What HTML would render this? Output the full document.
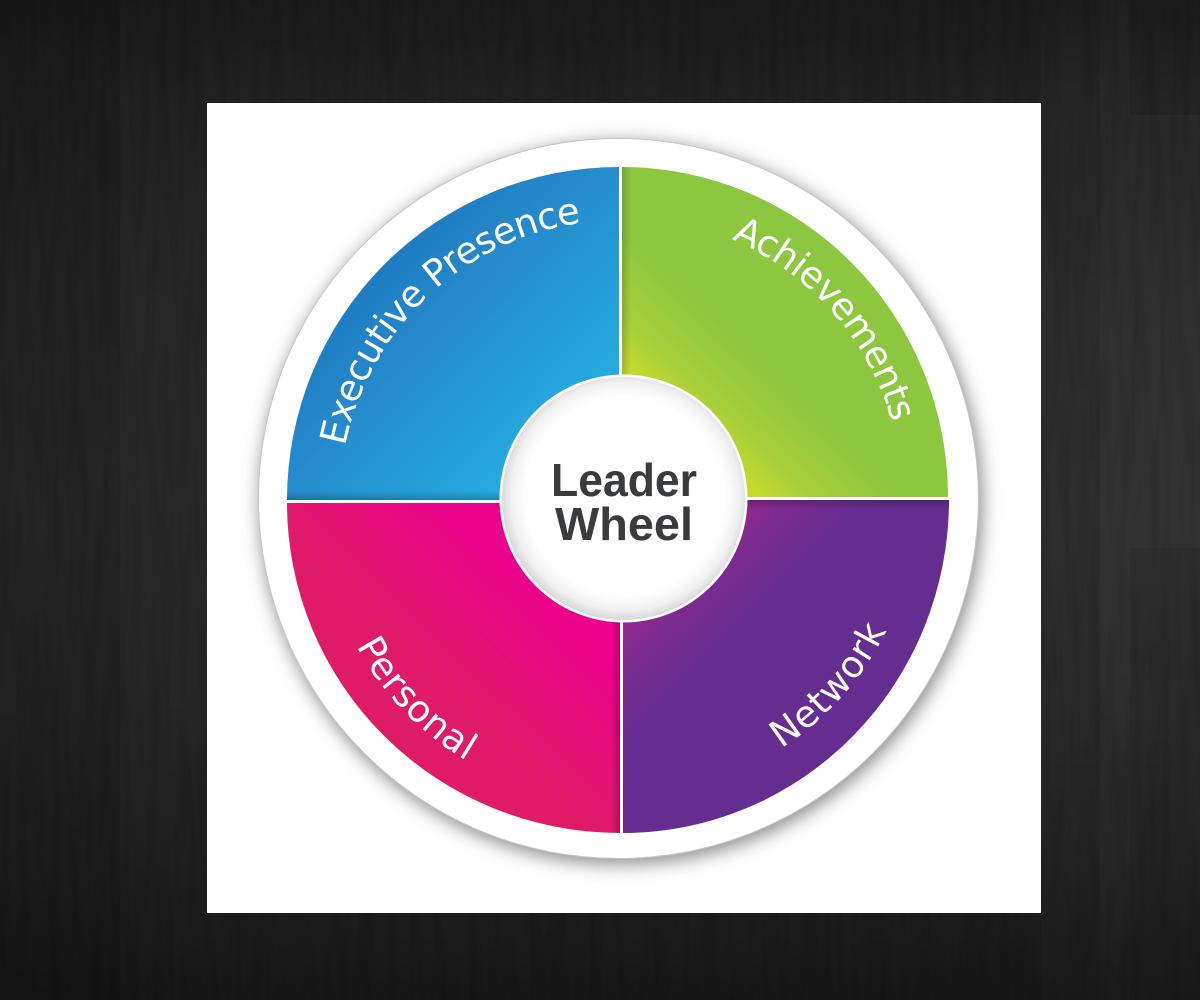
<!DOCTYPE html>
<html lang="en">
<head>
<meta charset="utf-8">
<title>Leader Wheel</title>
<style>
html,body{margin:0;padding:0;background:#1c1c1c;}
svg{display:block;}
</style>
</head>
<body>
<svg xmlns="http://www.w3.org/2000/svg" width="1200" height="1000" viewBox="0 0 1200 1000">
<defs>
  <linearGradient id="vig" x1="0" y1="0" x2="0" y2="1">
    <stop offset="0" stop-color="#000" stop-opacity=".38"/>
    <stop offset=".1" stop-color="#000" stop-opacity=".2"/>
    <stop offset=".3" stop-color="#000" stop-opacity=".06"/>
    <stop offset=".5" stop-color="#000" stop-opacity="0"/>
    <stop offset=".7" stop-color="#000" stop-opacity=".08"/>
    <stop offset=".9" stop-color="#000" stop-opacity=".3"/>
    <stop offset="1" stop-color="#000" stop-opacity=".48"/>
  </linearGradient>
  <filter id="grain" x="0" y="0" width="100%" height="100%">
    <feTurbulence type="fractalNoise" baseFrequency="0.1 0.008" numOctaves="3" seed="7"/>
    <feColorMatrix type="matrix" values="0 0 0 0 0  0 0 0 0 0  0 0 0 0 0  1.4 0 0 0 -.55"/>
  </filter>
  <filter id="shadow" x="-10%" y="-10%" width="120%" height="120%">
    <feGaussianBlur stdDeviation="9"/>
  </filter>
  <radialGradient id="hub" gradientUnits="userSpaceOnUse" cx="625" cy="496" r="124">
    <stop offset="0" stop-color="#fff"/>
    <stop offset=".8" stop-color="#fff"/>
    <stop offset=".92" stop-color="#f1f1f2"/>
    <stop offset="1" stop-color="#d6d7d9"/>
  </radialGradient>
  <linearGradient id="blue" gradientUnits="userSpaceOnUse" x1="541" y1="438" x2="350" y2="250">
    <stop offset="0" stop-color="#25a9e0"/>
    <stop offset=".6" stop-color="#2589cb"/>
    <stop offset="1" stop-color="#1b75bc"/>
  </linearGradient>
  <linearGradient id="green" gradientUnits="userSpaceOnUse" x1="695" y1="433" x2="764" y2="361">
    <stop offset="0" stop-color="#c7da2c"/>
    <stop offset=".3" stop-color="#aad03a"/>
    <stop offset="1" stop-color="#8dc63f"/>
  </linearGradient>
  <linearGradient id="pink" gradientUnits="userSpaceOnUse" x1="533" y1="575" x2="430" y2="680">
    <stop offset="0" stop-color="#ec008c"/>
    <stop offset="1" stop-color="#df1b68"/>
  </linearGradient>
  <linearGradient id="purple" gradientUnits="userSpaceOnUse" x1="628" y1="628" x2="687" y2="687">
    <stop offset="0" stop-color="#8f2790"/>
    <stop offset=".35" stop-color="#7a2b90"/>
    <stop offset="1" stop-color="#662d91"/>
  </linearGradient>
  <linearGradient id="edgeB" x1="0" y1="0" x2="0" y2="1">
    <stop offset="0" stop-color="#000" stop-opacity="0"/>
    <stop offset="1" stop-color="#000" stop-opacity=".22"/>
  </linearGradient>
  <linearGradient id="edgeT" x1="0" y1="1" x2="0" y2="0">
    <stop offset="0" stop-color="#000" stop-opacity="0"/>
    <stop offset="1" stop-color="#000" stop-opacity=".22"/>
  </linearGradient>
  <linearGradient id="edgeL" x1="1" y1="0" x2="0" y2="0">
    <stop offset="0" stop-color="#000" stop-opacity="0"/>
    <stop offset="1" stop-color="#000" stop-opacity=".18"/>
  </linearGradient>
  <linearGradient id="edgeR" x1="0" y1="0" x2="1" y2="0">
    <stop offset="0" stop-color="#000" stop-opacity="0"/>
    <stop offset="1" stop-color="#000" stop-opacity=".22"/>
  </linearGradient>
  <clipPath id="cTL"><path d="M287 500A332 333 0 0 1 619 167V500Z"/></clipPath>
  <clipPath id="cTR"><path d="M622 167A326 330 0 0 1 948 497H622Z"/></clipPath>
  <clipPath id="cBL"><path d="M287 503A333 330 0 0 0 620 833V503Z"/></clipPath>
  <clipPath id="cBR"><path d="M623 500H949A326 333 0 0 1 623 833Z"/></clipPath>
  <path id="pExec" d="M340 500A280 280 0 0 1 900 500"/>
  <path id="pAch" d="M342 497A280 280 0 0 1 902 497"/>
  <path id="pPers" d="M320 503A300 300 0 0 0 920 503"/>
  <path id="pNet" d="M327 500A295 295 0 0 0 917 500"/>
</defs>

<!-- wood background -->
<rect width="1200" height="1000" fill="#2a2a2b"/>
<rect x="0" y="0" width="120" height="1000" fill="#242425"/>
<rect x="120" y="0" width="87" height="1000" fill="#29292a"/>
<rect x="1041" y="0" width="70" height="1000" fill="#2e2e2f"/>
<rect x="1100" y="0" width="100" height="1000" fill="#323233"/>
<rect x="1130" y="0" width="70" height="115" fill="#2c2c2d"/>
<rect x="1130" y="548" width="70" height="452" fill="#2e2e2f"/>
<rect width="1200" height="1000" filter="url(#grain)" opacity=".2"/>
<rect width="1200" height="1000" fill="url(#vig)"/>

<!-- paper -->
<rect x="207" y="103" width="834" height="810" fill="#fff"/>

<!-- outer disc -->
<circle cx="621" cy="503" r="361" fill="#58595b" opacity=".7" filter="url(#shadow)"/>
<circle cx="618.5" cy="498.5" r="360" fill="none" stroke="#c4c5c7" stroke-width="1"/>
<circle cx="618.5" cy="498.5" r="359.5" fill="#fff"/>

<!-- quadrants -->
<path d="M287 500A332 333 0 0 1 619 167V500Z" fill="url(#blue)"/>
<rect x="287" y="491" width="332" height="9" fill="url(#edgeB)" clip-path="url(#cTL)"/>
<path d="M622 167A326 330 0 0 1 948 497H622Z" fill="url(#green)"/>
<rect x="622" y="167" width="9" height="330" fill="url(#edgeL)" clip-path="url(#cTR)"/>
<path d="M287 503A333 330 0 0 0 620 833V503Z" fill="url(#pink)"/>
<rect x="611" y="503" width="9" height="330" fill="url(#edgeR)" clip-path="url(#cBL)"/>
<path d="M623 500H949A326 333 0 0 1 623 833Z" fill="url(#purple)"/>
<rect x="623" y="500" width="326" height="9" fill="url(#edgeT)" clip-path="url(#cBR)"/>

<!-- hub -->
<circle cx="623.5" cy="498.5" r="124" fill="#fff"/>
<circle cx="623.5" cy="498.5" r="121.5" fill="url(#hub)"/>

<!-- curved labels -->
<g font-family="'DejaVu Sans','Liberation Sans',sans-serif" font-size="37" fill="#fff">
  <text><textPath href="#pExec" startOffset="54" textLength="347" lengthAdjust="spacing">Executive Presence</textPath></text>
  <text><textPath href="#pAch" startOffset="552" textLength="252" lengthAdjust="spacing">Achievements</textPath></text>
  <text><textPath href="#pPers" startOffset="149" textLength="161" lengthAdjust="spacing">Personal</textPath></text>
  <text><textPath href="#pNet" startOffset="631" textLength="160" lengthAdjust="spacing">Network</textPath></text>
</g>

<!-- centre labels -->
<g font-family="'Liberation Sans',sans-serif" font-size="46" font-weight="700" fill="#3a3b3d">
  <text x="551" y="496" textLength="146" lengthAdjust="spacingAndGlyphs">Leader</text>
  <text x="555" y="540" textLength="138" lengthAdjust="spacingAndGlyphs">Wheel</text>
</g>
</svg>
</body>
</html>
